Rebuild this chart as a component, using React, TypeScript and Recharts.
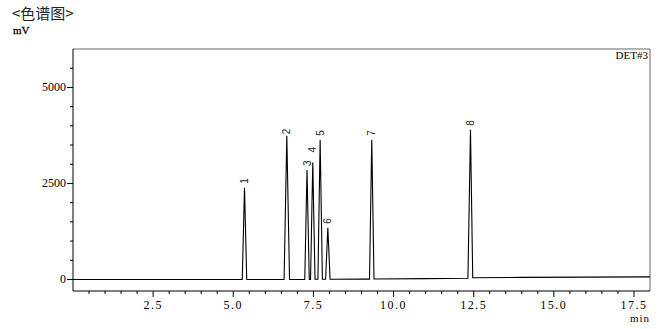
import { LineChart, Line, XAxis, YAxis, ReferenceLine } from "recharts";

// retention time (min) and detector signal (mV)
const times = [
  0, 5.28, 5.35, 5.42, 6.585, 6.67, 6.755, 7.23, 7.3, 7.37, 7.41, 7.48, 7.55,
  7.64, 7.71, 7.78, 7.88, 7.95, 8.02, 9.0, 9.25, 9.32, 9.39, 11.0, 12.32, 12.4,
  12.47, 14.0, 16.0, 18.0,
];
const signal = [
  0, 0, 2390, 0, 0, 3740, 0, 0, 2850, 2, 2, 3045, 4, 4, 3635, 4, 4, 1345, 5, 8,
  10, 3635, 14, 22, 30, 3895, 46, 55, 62, 68,
];
// peak number at the apex points, empty elsewhere
const peakNo = [
  "", "", "1", "", "", "2", "", "", "3", "", "", "4", "", "", "5", "", "", "6",
  "", "", "", "7", "", "", "", "8", "", "", "", "",
];

const xMajor = [2.5, 5, 7.5, 10, 12.5, 15, 17.5];
const xLabels = ["2.5", "5.0", "7.5", "10.0", "12.5", "15.0", "17.5"];
const yMajor = [0, 2500, 5000];
const yLabels = ["0", "2500", "5000"];

const xTicks = Array.from({ length: 35 }, (_, i) => (i + 1) * 0.5);
const yTicks = Array.from({ length: 12 }, (_, i) => i * 500);

const data = times.map((t, i) => ({ t, mV: signal[i], peak: peakNo[i] }));

const serif = "'Liberation Serif', serif";

const XTick = ({ x, y, payload }: any) => {
  const k = xMajor.indexOf(payload.value);
  return (
    <g>
      <line x1={x} x2={x} y1={y} y2={y + (k >= 0 ? 6 : 3)} stroke="#000" />
      {k >= 0 && (
        <text x={x} y={y + 17.5} textAnchor="middle" fontSize={12} fontFamily={serif} letterSpacing={1.5} fill="#000">
          {xLabels[k]}
        </text>
      )}
    </g>
  );
};

const YTick = ({ x, y, payload }: any) => {
  const k = yMajor.indexOf(payload.value);
  return (
    <g>
      <line x1={x} x2={x - (k >= 0 ? 6 : 3)} y1={y} y2={y} stroke="#000" />
      {k >= 0 && (
        <text x={x - 7} y={y + 4} textAnchor="end" fontSize={12} fontFamily={serif} fill="#000">
          {yLabels[k]}
        </text>
      )}
    </g>
  );
};

const labelLift: Record<string, number> = { "2": 1.5, "4": 10 };

const PeakLabel = (props: any) => {
  const { x, y, index } = props;
  const p = data[index]?.peak;
  if (!p) return null;
  const ty = y - (labelLift[p] ?? 4);
  return (
    <text
      x={x}
      y={ty}
      dy="0.35em"
      transform={`rotate(-90, ${x}, ${ty})`}
      fontSize={10}
      fontFamily="'Liberation Sans', sans-serif"
      fill="#222"
    >
      {p}
    </text>
  );
};

export default function App() {
  return (
    <div style={{ position: "absolute", left: 0, top: 0, width: 672, height: 329, background: "#fff" }}>
      <svg width={672} height={40} style={{ position: "absolute", left: 0, top: 0 }}>
        <text x={12} y={19} fontSize={15} fontFamily="'Noto Sans CJK SC', sans-serif" fill="#222">
          {"<色谱图>"}
        </text>
        <text x={13} y={34} fontSize={11} fontFamily={serif} fill="#000" stroke="#000" strokeWidth={0.3}>
          mV
        </text>
      </svg>
      <LineChart
        width={672}
        height={329}
        data={data}
        margin={{ top: 49, right: 22, left: 0, bottom: 0 }}
        style={{ position: "absolute", left: 0, top: 0 }}
      >
        <XAxis
          dataKey="t"
          type="number"
          domain={[0, 18]}
          ticks={xTicks}
          interval={0}
          height={38}
          tickSize={0}
          tickMargin={0}
          tickLine={false}
          axisLine={{ stroke: "#000" }}
          tick={<XTick />}
        />
        <YAxis
          type="number"
          domain={[-300, 6000]}
          ticks={yTicks}
          interval={0}
          width={73}
          tickSize={0}
          tickMargin={0}
          tickLine={false}
          axisLine={{ stroke: "#000" }}
          tick={<YTick />}
        />
        <ReferenceLine y={6000} stroke="#666" />
        <ReferenceLine x={18} stroke="#666" />
        <Line
          dataKey="mV"
          type="linear"
          stroke="#000"
          strokeWidth={1.1}
          dot={false}
          isAnimationActive={false}
          label={<PeakLabel />}
        />
        <text x={648} y={59} textAnchor="end" fontSize={11} fontFamily={serif} fill="#000">
          DET#3
        </text>
        <text x={650} y={322} textAnchor="end" fontSize={11} fontFamily={serif} letterSpacing={1} fill="#000">
          min
        </text>
      </LineChart>
    </div>
  );
}
